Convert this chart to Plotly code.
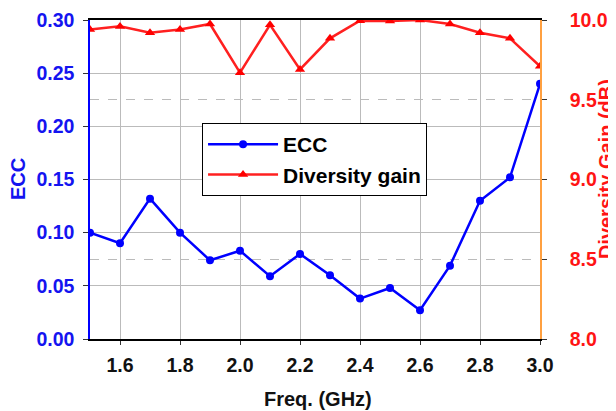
import plotly.graph_objects as go

freq = [1.5, 1.6, 1.7, 1.8, 1.9, 2.0, 2.1, 2.2, 2.3, 2.4, 2.5, 2.6, 2.7, 2.8, 2.9, 3.0]
ecc = [0.100, 0.090, 0.132, 0.100, 0.074, 0.083, 0.059, 0.080, 0.060, 0.038, 0.048, 0.027, 0.069, 0.130, 0.152, 0.240]
dg = [9.94, 9.96, 9.92, 9.94, 9.975, 9.67, 9.97, 9.69, 9.885, 9.996, 9.994, 10.0, 9.975, 9.92, 9.885, 9.71]

x_ticks = [1.6, 1.8, 2.0, 2.2, 2.4, 2.6, 2.8, 3.0]
ecc_ticks = [0.00, 0.05, 0.10, 0.15, 0.20, 0.25, 0.30]
dg_ticks = [8.0, 8.5, 9.0, 9.5, 10.0]

x_title = "Freq. (GHz)"
y_title = "ECC"
y2_title = "Diversity Gain (dB)"

FONT = "Liberation Sans, Arial, sans-serif"
BLUE = "#1414F0"
RED = "#FF1414"

fig = go.Figure()
fig.add_trace(go.Scatter(
    x=freq, y=ecc, name="ECC", mode="lines+markers",
    line=dict(color="#0000FF", width=2.5),
    marker=dict(symbol="circle", size=8, color="#0000FF"),
    yaxis="y"))
fig.add_trace(go.Scatter(
    x=freq, y=dg, name="Diversity gain", mode="lines+markers",
    line=dict(color="#FF2020", width=2.5),
    marker=dict(symbol="triangle-up", size=9, color="#FF0000"),
    yaxis="y2"))

# the page body has an 8px margin, so the figure is sized/offset to compensate
fig.update_layout(
    width=608, height=403,
    margin=dict(l=82, r=76, t=12, b=72),
    plot_bgcolor="white", paper_bgcolor="white",
    font=dict(family=FONT, size=19, color="black", weight="bold"),
    xaxis=dict(
        range=[1.5, 3.0], tickvals=x_ticks, tickformat=".1f",
        automargin=False,
        showline=True, linecolor="black", linewidth=1.5, mirror=True,
        ticks="outside", ticklen=4, tickcolor="#333",
        ticklabelstandoff=4,
        showgrid=True, gridcolor="#BBBBBB", gridwidth=1,
        zeroline=False,
        tickfont=dict(size=19.5, color="#111", weight="bold"),
    ),
    yaxis=dict(
        range=[0, 0.30], tickvals=ecc_ticks, tickformat=".2f",
        automargin=False,
        showline=True, linecolor="#0000FF", linewidth=1.5,
        ticks="outside", ticklen=5, tickcolor="#333",
        ticklabelstandoff=5,
        showgrid=True, gridcolor="#BBBBBB", gridwidth=1,
        zeroline=False,
        tickfont=dict(size=19.5, color=BLUE, weight="bold"),
    ),
    yaxis2=dict(
        range=[8.0, 10.0], tickvals=dg_ticks, tickformat=".1f",
        overlaying="y", side="right",
        automargin=False,
        showline=True, linecolor="#FFA040", linewidth=1.5,
        ticks="outside", ticklen=5, tickcolor="#333",
        ticklabelstandoff=19,
        showgrid=True, gridcolor="#BBBBBB", gridwidth=1, griddash="dash",
        zeroline=False,
        tickfont=dict(size=19.5, color=RED, weight="bold"),
    ),
    legend=dict(
        x=0.249, y=0.677, xanchor="left", yanchor="top",
        bgcolor="white", bordercolor="black", borderwidth=1,
        font=dict(size=21, color="black", weight="bold"),
        itemwidth=70, tracegroupgap=0,
    ),
    showlegend=True,
    annotations=[
        dict(text=y_title, xref="paper", yref="paper", x=-0.161, y=0.50,
             xanchor="center", yanchor="middle", textangle=-90, showarrow=False,
             font=dict(size=20, color=BLUE, weight="bold")),
        dict(text=y2_title, xref="paper", yref="paper", x=1.147, y=0.533,
             xanchor="center", yanchor="middle", textangle=-90, showarrow=False,
             font=dict(size=20, color=RED, weight="bold")),
        dict(text=x_title, xref="paper", yref="paper", x=0.5056, y=-0.188,
             xanchor="center", yanchor="middle", showarrow=False,
             font=dict(size=20, color="#111", weight="bold")),
    ],
)

fig.write_html("out.html")
